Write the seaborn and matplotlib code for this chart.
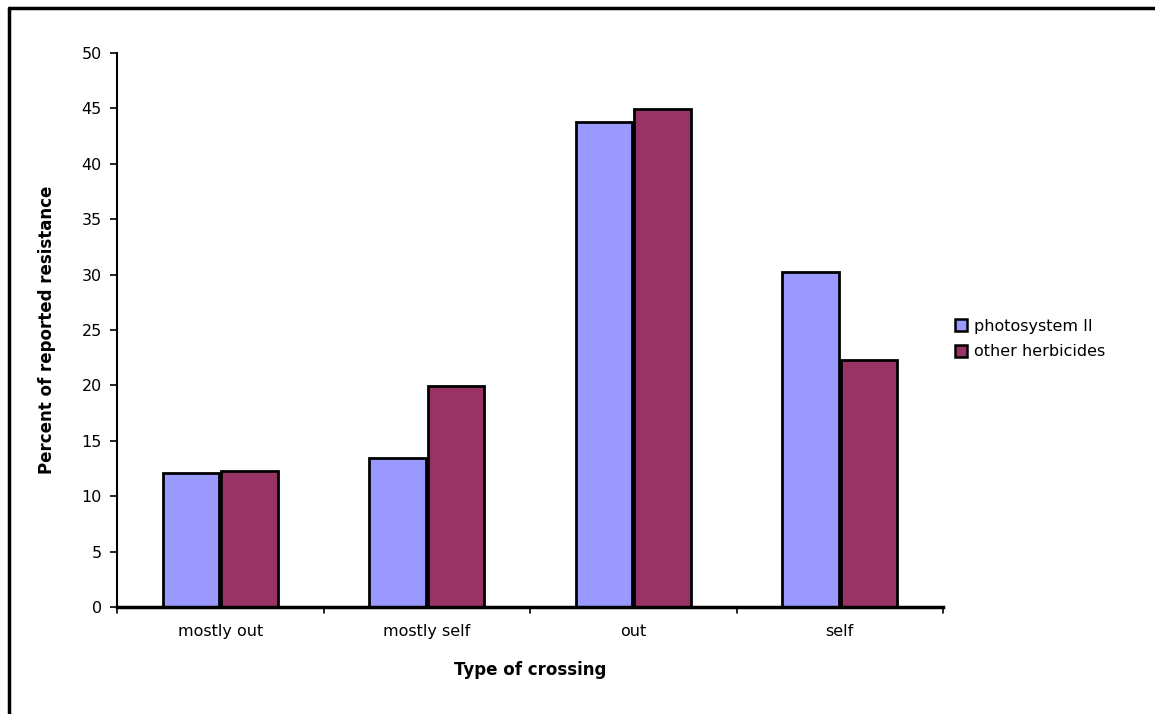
import matplotlib
matplotlib.use("Agg")
import matplotlib.pyplot as plt
import seaborn as sns
import pandas as pd
from matplotlib.lines import Line2D

categories = ["mostly out", "mostly self", "out", "self"]
photosystem_ii = [12.1, 13.4, 43.8, 30.2]
other_herbicides = [12.3, 19.9, 44.9, 22.3]
series_names = ["photosystem II", "other herbicides"]
y_ticks = [0, 5, 10, 15, 20, 25, 30, 35, 40, 45, 50]

df = pd.DataFrame({
    "crossing": categories * 2,
    "value": photosystem_ii + other_herbicides,
    "series": [series_names[0]] * len(categories) + [series_names[1]] * len(categories),
})

sns.set_theme(style="white")
plt.rcParams["font.family"] = ["DejaVu Sans"]
plt.rcParams["text.color"] = "black"
plt.rcParams["axes.labelcolor"] = "black"

fig = plt.figure(figsize=(11.55, 7.14), dpi=100)
ax = fig.add_axes([0.1013, 0.15, 0.7152, 0.7758])

palette = {series_names[0]: "#9999FF", series_names[1]: "#993366"}
sns.barplot(data=df, x="crossing", y="value", hue="series", palette=palette,
            order=categories, hue_order=series_names, width=0.57, gap=0.04,
            edgecolor="black", linewidth=2.0, saturation=1, ax=ax, legend=False)

ax.set_ylim(0, 50)
ax.set_xlim(-0.5, len(categories) - 0.5)
ax.set_yticks(y_ticks)
ax.set_yticklabels([str(t) for t in y_ticks], fontsize=11.5, color="black")
ax.tick_params(axis="x", length=0, labelsize=11.5, pad=12, colors="black")
ax.tick_params(axis="y", which="major", length=5, width=1.2, direction="out",
               left=True, pad=6, colors="black")

# category separator ticks on the x axis
for b in range(len(categories) + 1):
    ax.plot([b - 0.5, b - 0.5], [0, -0.55], color="black", lw=1.2,
            clip_on=False, transform=ax.transData)

for side in ["top", "right"]:
    ax.spines[side].set_visible(False)
ax.spines["left"].set_color("black")
ax.spines["left"].set_linewidth(1.5)
ax.spines["bottom"].set_color("black")
ax.spines["bottom"].set_linewidth(2.5)

ax.set_xlabel("Type of crossing", fontsize=12, fontweight="bold", labelpad=16,
              color="black")
ax.set_ylabel("Percent of reported resistance", fontsize=12, fontweight="bold",
              labelpad=18, color="black")

handles = [Line2D([0], [0], marker="s", linestyle="none", markersize=8.5,
                  markerfacecolor=palette[n], markeredgecolor="black",
                  markeredgewidth=1.8) for n in series_names]
fig.legend(handles, series_names, loc="center left", bbox_to_anchor=(0.813, 0.525),
           frameon=False, fontsize=11.5, handletextpad=0.3, labelspacing=0.65,
           handlelength=1.0, labelcolor="black")

# outer chart frame
fig.add_artist(Line2D([9 / 1155, 9 / 1155], [0, 1 - 8 / 714], color="black",
                      lw=2.5, transform=fig.transFigure))
fig.add_artist(Line2D([9 / 1155, 1], [1 - 8 / 714, 1 - 8 / 714], color="black",
                      lw=2.5, transform=fig.transFigure))

fig.savefig("out.png", dpi=100)
